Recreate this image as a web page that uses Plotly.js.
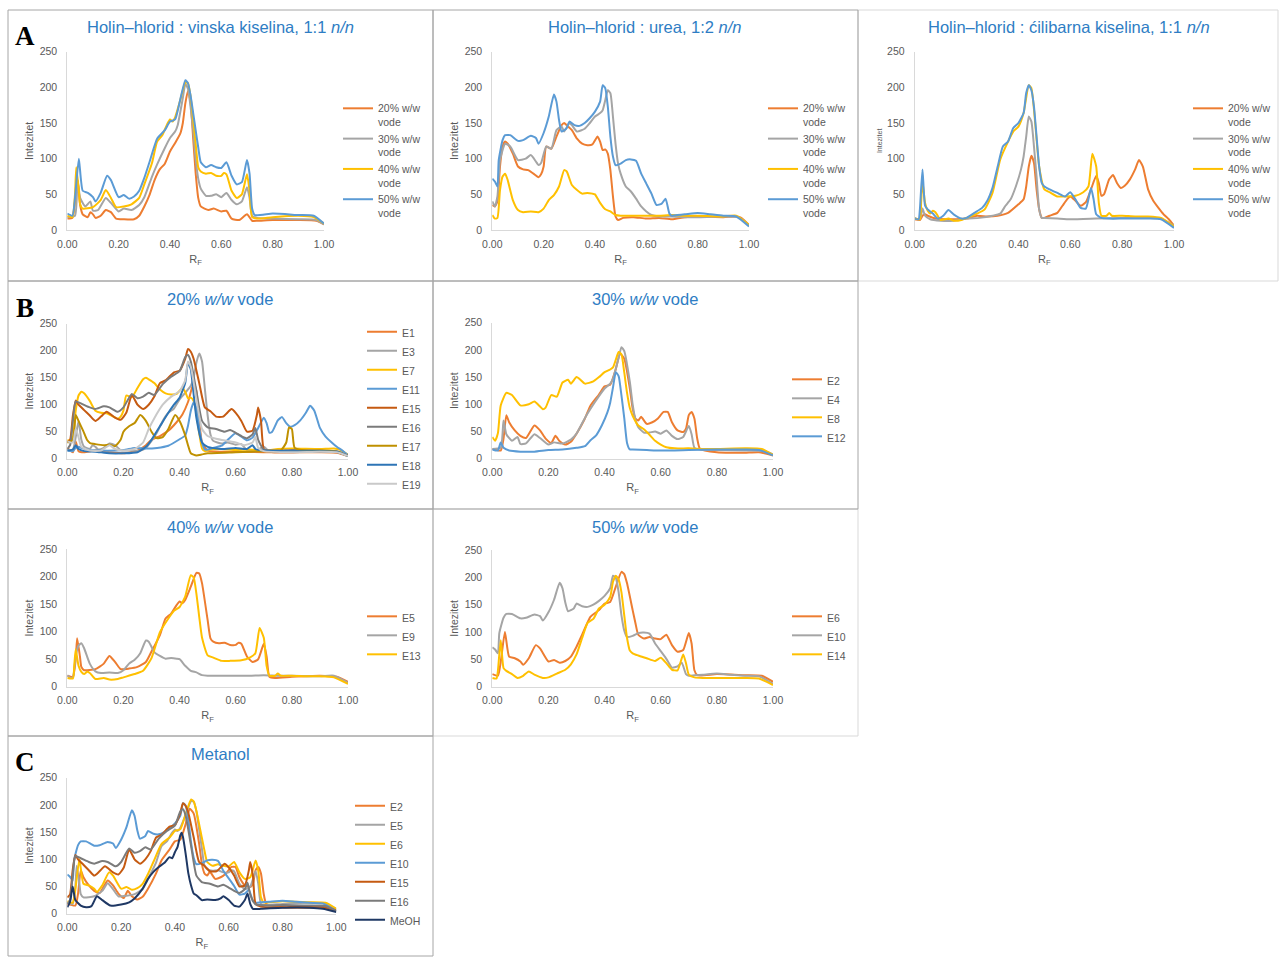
<!DOCTYPE html>
<html><head><meta charset="utf-8">
<script src="https://cdn.plot.ly/plotly-3.0.1.min.js"></script>
<style>html,body{margin:0;padding:0;background:#fff}#chart{width:1279px;height:957px}</style>
</head><body><div id="chart"></div>
<script>
// ---- DATA: [RF, intensity] pairs ----
const E1 = [[0,20],[0.02,12],[0.03,32],[0.04,14],[0.06,12],[0.10,15],[0.15,12],[0.20,10],[0.25,15],[0.28,25],[0.30,35],[0.33,42],[0.36,52],[0.39,68],[0.41,82],[0.43,105],[0.45,140],[0.46,125],[0.47,70],[0.48,30],[0.50,15],[0.60,13],[0.70,12],[0.80,12],[0.90,12],[0.96,11],[1.00,5]];
const E2 = [[0,18],[0.03,15],[0.04,37],[0.05,80],[0.06,67],[0.08,52],[0.10,42],[0.12,38],[0.15,61],[0.17,52],[0.19,37],[0.21,29],[0.225,42],[0.24,32],[0.26,26],[0.28,31],[0.30,46],[0.33,74],[0.35,98],[0.38,118],[0.40,133],[0.42,136],[0.44,165],[0.455,193],[0.47,184],[0.49,129],[0.50,92],[0.51,74],[0.52,70],[0.53,77],[0.55,64],[0.57,67],[0.59,74],[0.61,86],[0.625,86],[0.64,67],[0.66,52],[0.68,49],[0.69,55],[0.70,80],[0.71,86],[0.72,74],[0.73,37],[0.74,18],[0.80,12],[0.85,11],[0.90,11],[0.95,12],[1.00,6]];
const E3 = [[0,16],[0.02,17],[0.03,40],[0.04,70],[0.05,35],[0.06,22],[0.08,18],[0.09,25],[0.10,22],[0.11,17],[0.13,20],[0.15,28],[0.17,25],[0.19,16],[0.22,15],[0.26,15],[0.28,20],[0.30,33],[0.32,49],[0.34,70],[0.36,85],[0.38,93],[0.40,110],[0.42,122],[0.44,135],[0.45,150],[0.46,178],[0.47,195],[0.48,180],[0.49,130],[0.50,80],[0.51,45],[0.52,33],[0.55,28],[0.57,30],[0.60,26],[0.62,27],[0.64,16],[0.67,14],[0.70,22],[0.72,13],[0.74,13],[0.80,14],[0.90,14],[0.97,13],[1.00,8]];
const E4 = [[0,18],[0.03,20],[0.04,70],[0.05,45],[0.07,33],[0.09,40],[0.10,27],[0.12,28],[0.15,45],[0.17,38],[0.20,26],[0.22,30],[0.25,28],[0.28,35],[0.30,46],[0.33,75],[0.35,92],[0.38,115],[0.40,129],[0.42,138],[0.43,147],[0.45,185],[0.46,205],[0.47,198],[0.49,141],[0.50,100],[0.51,72],[0.52,58],[0.54,48],[0.56,48],[0.58,50],[0.60,46],[0.62,52],[0.64,42],[0.66,36],[0.68,40],[0.70,60],[0.71,45],[0.72,20],[0.74,17],[0.80,16],[0.90,15],[0.97,14],[1.00,8]];
const E5 = [[0,20],[0.02,18],[0.03,50],[0.035,88],[0.045,55],[0.05,36],[0.06,30],[0.10,32],[0.13,42],[0.15,56],[0.17,45],[0.19,32],[0.22,33],[0.25,36],[0.28,45],[0.30,64],[0.33,94],[0.35,124],[0.37,133],[0.39,149],[0.40,155],[0.41,152],[0.42,158],[0.44,182],[0.46,207],[0.47,206],[0.48,188],[0.50,121],[0.51,88],[0.52,82],[0.54,79],[0.56,80],[0.58,76],[0.60,76],[0.61,80],[0.62,78],[0.64,55],[0.66,45],[0.68,50],[0.70,78],[0.71,55],[0.72,18],[0.74,16],[0.80,18],[0.90,20],[0.96,18],[1.00,9]];
const E6 = [[0,23],[0.02,20],[0.03,45],[0.045,100],[0.06,55],[0.08,52],[0.10,46],[0.11,40],[0.13,52],[0.155,76],[0.17,70],[0.20,46],[0.22,49],[0.24,44],[0.26,47],[0.28,55],[0.30,73],[0.32,95],[0.35,128],[0.38,140],[0.40,152],[0.42,155],[0.44,183],[0.46,210],[0.47,206],[0.48,189],[0.50,140],[0.51,116],[0.52,95],[0.54,88],[0.56,91],[0.58,88],[0.60,87],[0.62,95],[0.64,76],[0.66,64],[0.68,67],[0.70,98],[0.71,79],[0.72,30],[0.73,21],[0.80,23],[0.90,21],[0.96,20],[1.00,9]];
const E7 = [[0,35],[0.01,33],[0.02,40],[0.03,89],[0.04,117],[0.05,124],[0.06,121],[0.08,107],[0.10,89],[0.12,85],[0.14,84],[0.16,79],[0.18,74],[0.19,78],[0.20,89],[0.21,117],[0.23,114],[0.25,131],[0.27,147],[0.28,150],[0.29,147],[0.31,140],[0.33,128],[0.35,121],[0.37,119],[0.39,120],[0.41,131],[0.42,124],[0.43,112],[0.44,113],[0.45,107],[0.46,84],[0.47,47],[0.48,19],[0.49,14],[0.51,17],[0.55,18],[0.60,16],[0.65,17],[0.70,15],[0.75,18],[0.80,19],[0.90,18],[0.95,19],[0.97,17],[1.00,7]];
const E8 = [[0,40],[0.01,33],[0.02,47],[0.03,98],[0.05,121],[0.07,117],[0.10,98],[0.13,100],[0.15,105],[0.17,96],[0.18,91],[0.19,94],[0.21,117],[0.23,114],[0.25,140],[0.27,145],[0.28,138],[0.30,150],[0.31,147],[0.33,138],[0.36,142],[0.38,150],[0.40,159],[0.42,164],[0.43,168],[0.44,182],[0.45,196],[0.46,192],[0.47,159],[0.48,121],[0.49,93],[0.50,79],[0.52,61],[0.54,54],[0.56,44],[0.58,33],[0.60,26],[0.62,21],[0.65,19],[0.70,19],[0.75,18],[0.80,18],[0.90,19],[0.96,18],[1.00,7]];
const E9 = [[0,21],[0.01,16],[0.02,17],[0.03,56],[0.04,75],[0.05,79],[0.06,70],[0.08,42],[0.10,28],[0.12,25],[0.15,26],[0.18,25],[0.20,30],[0.22,42],[0.24,49],[0.26,61],[0.28,84],[0.29,82],[0.31,63],[0.33,56],[0.35,51],[0.37,52],[0.39,51],[0.40,50],[0.42,38],[0.44,29],[0.46,26],[0.48,21],[0.50,20],[0.55,20],[0.60,20],[0.65,20],[0.70,21],[0.75,20],[0.80,20],[0.90,19],[0.95,20],[1.00,7]];
const E10 = [[0,72],[0.01,68],[0.02,61],[0.025,98],[0.04,126],[0.05,133],[0.07,133],[0.10,125],[0.12,126],[0.15,132],[0.17,129],[0.18,121],[0.20,136],[0.22,159],[0.24,190],[0.25,180],[0.26,154],[0.27,138],[0.29,143],[0.30,152],[0.32,147],[0.34,146],[0.36,150],[0.38,157],[0.40,166],[0.42,180],[0.43,203],[0.44,199],[0.45,173],[0.46,131],[0.47,103],[0.48,91],[0.50,93],[0.52,98],[0.54,99],[0.56,97],[0.58,79],[0.60,65],[0.62,51],[0.64,35],[0.66,37],[0.675,44],[0.69,23],[0.70,20],[0.72,21],[0.75,22],[0.80,24],[0.85,22],[0.90,20],[0.95,19],[1.00,5]];
const E11 = [[0,15],[0.02,14],[0.03,20],[0.04,22],[0.05,20],[0.08,16],[0.12,15],[0.20,16],[0.24,20],[0.28,19],[0.32,20],[0.36,24],[0.40,36],[0.42,43],[0.43,61],[0.44,89],[0.45,104],[0.46,94],[0.47,57],[0.48,29],[0.49,17],[0.50,17],[0.52,20],[0.55,24],[0.57,34],[0.59,44],[0.60,47],[0.62,41],[0.64,34],[0.66,39],[0.68,57],[0.70,76],[0.71,66],[0.72,48],[0.73,50],[0.75,71],[0.765,77],[0.78,66],[0.795,59],[0.81,62],[0.83,71],[0.85,85],[0.865,98],[0.88,89],[0.90,57],[0.92,41],[0.94,31],[0.96,22],[0.98,15],[1.00,6]];
const E12 = [[0,17],[0.02,15],[0.03,30],[0.04,20],[0.06,15],[0.10,13],[0.15,13],[0.20,16],[0.25,17],[0.30,20],[0.33,23],[0.35,34],[0.37,43],[0.39,61],[0.41,85],[0.42,103],[0.43,131],[0.44,159],[0.45,152],[0.46,117],[0.47,75],[0.48,29],[0.49,17],[0.50,17],[0.55,16],[0.60,15],[0.70,16],[0.80,17],[0.90,17],[0.95,16],[1.00,6]];
const E13 = [[0,16],[0.02,15],[0.025,40],[0.03,68],[0.04,38],[0.05,27],[0.06,23],[0.07,27],[0.08,25],[0.10,14],[0.13,16],[0.15,13],[0.18,14],[0.20,17],[0.24,23],[0.27,29],[0.30,52],[0.33,99],[0.36,124],[0.38,138],[0.40,145],[0.42,164],[0.44,203],[0.45,199],[0.46,169],[0.47,127],[0.48,89],[0.50,57],[0.52,53],[0.55,47],[0.58,47],[0.62,48],[0.65,53],[0.67,61],[0.685,107],[0.70,89],[0.71,38],[0.72,20],[0.74,20],[0.75,24],[0.76,20],[0.80,20],[0.85,19],[0.90,19],[0.95,17],[1.00,5]];
const E14 = [[0,16],[0.015,15],[0.02,29],[0.03,85],[0.04,34],[0.05,29],[0.07,23],[0.09,16],[0.11,20],[0.13,28],[0.15,22],[0.18,16],[0.20,17],[0.23,24],[0.26,31],[0.28,41],[0.30,59],[0.32,89],[0.34,117],[0.36,124],[0.38,143],[0.40,150],[0.42,164],[0.43,192],[0.44,203],[0.45,196],[0.46,173],[0.47,131],[0.48,89],[0.49,66],[0.50,61],[0.52,57],[0.55,52],[0.58,47],[0.60,53],[0.62,43],[0.64,31],[0.66,30],[0.68,59],[0.69,43],[0.70,22],[0.72,17],[0.75,16],[0.80,16],[0.90,16],[0.95,15],[1.00,3]];
const E15 = [[0,30],[0.01,35],[0.02,80],[0.03,108],[0.04,100],[0.06,90],[0.08,80],[0.10,70],[0.12,78],[0.14,87],[0.17,76],[0.19,72],[0.21,85],[0.23,118],[0.25,100],[0.27,92],[0.29,100],[0.31,115],[0.33,140],[0.35,145],[0.38,160],[0.40,163],[0.42,185],[0.43,203],[0.44,198],[0.45,185],[0.47,140],[0.49,95],[0.51,88],[0.53,78],[0.555,78],[0.585,92],[0.60,85],[0.62,70],[0.64,50],[0.66,52],[0.675,80],[0.68,95],[0.69,70],[0.70,18],[0.72,13],[0.80,12],[0.90,14],[0.96,12],[1.00,6]];
const E16 = [[0,18],[0.01,25],[0.02,70],[0.03,106],[0.05,102],[0.08,95],[0.10,92],[0.13,97],[0.15,95],[0.18,87],[0.20,95],[0.23,120],[0.25,112],[0.27,115],[0.29,122],[0.31,118],[0.34,138],[0.37,152],[0.40,162],[0.42,188],[0.43,192],[0.44,180],[0.46,125],[0.48,70],[0.50,58],[0.53,55],[0.56,50],[0.58,53],[0.60,48],[0.62,42],[0.64,38],[0.66,45],[0.67,57],[0.68,35],[0.70,17],[0.75,15],[0.80,16],[0.90,15],[0.96,14],[1.00,5]];
const E17 = [[0,30],[0.02,35],[0.03,81],[0.04,70],[0.057,51],[0.07,35],[0.081,29],[0.10,27],[0.13,25],[0.152,26],[0.17,23],[0.19,35],[0.20,50],[0.22,60],[0.24,66],[0.26,81],[0.28,70],[0.30,50],[0.318,38],[0.34,40],[0.36,55],[0.384,81],[0.40,70],[0.419,45],[0.43,25],[0.44,10],[0.46,6],[0.48,8],[0.50,10],[0.60,12],[0.70,14],[0.76,15],[0.78,30],[0.79,58],[0.80,55],[0.81,20],[0.85,15],[0.90,15],[0.96,13],[1.00,5]];
const E18 = [[0,15],[0.02,17],[0.03,25],[0.04,18],[0.06,14],[0.10,13],[0.15,10],[0.20,10],[0.25,12],[0.28,22],[0.30,35],[0.33,60],[0.36,85],[0.38,100],[0.40,113],[0.42,140],[0.43,178],[0.44,165],[0.45,120],[0.46,75],[0.48,30],[0.50,22],[0.55,18],[0.60,20],[0.64,18],[0.66,25],[0.67,18],[0.70,15],[0.80,14],[0.90,14],[0.96,13],[1.00,5]];
const E19 = [[0,32],[0.02,30],[0.03,55],[0.04,40],[0.05,22],[0.08,15],[0.12,15],[0.15,25],[0.17,18],[0.20,15],[0.24,18],[0.27,30],[0.29,55],[0.31,75],[0.34,100],[0.37,115],[0.40,125],[0.42,145],[0.43,180],[0.44,170],[0.46,110],[0.48,55],[0.50,42],[0.53,37],[0.57,33],[0.60,30],[0.63,25],[0.66,30],[0.67,40],[0.68,20],[0.70,14],[0.80,12],[0.90,13],[0.96,12],[1.00,5]];
const MeOH = [[0,12],[0.01,21],[0.02,50],[0.03,25],[0.05,15],[0.07,12],[0.09,14],[0.11,32],[0.13,25],[0.16,15],[0.20,17],[0.23,21],[0.25,28],[0.28,46],[0.30,64],[0.32,77],[0.34,86],[0.36,93],[0.38,104],[0.39,102],[0.40,113],[0.41,123],[0.42,144],[0.425,149],[0.43,141],[0.44,110],[0.45,74],[0.46,52],[0.47,37],[0.48,34],[0.50,25],[0.52,26],[0.55,25],[0.57,28],[0.58,32],[0.60,25],[0.62,15],[0.64,13],[0.66,25],[0.67,37],[0.68,18],[0.69,9],[0.72,9],[0.80,11],[0.90,11],[0.95,9],[1.00,3]];

const waterLabels = ['20% w/w<br>vode','30% w/w<br>vode','40% w/w<br>vode','50% w/w<br>vode'];
const panelTitles = [
  'Holin–hlorid : vinska kiselina, 1:1 <i>n/n</i>',
  'Holin–hlorid : urea, 1:2 <i>n/n</i>',
  'Holin–hlorid : ćilibarna kiselina, 1:1 <i>n/n</i>',
  '20% <i>w/w</i> vode', '30% <i>w/w</i> vode', '40% <i>w/w</i> vode', '50% <i>w/w</i> vode',
  'Metanol'
];
const yTicks = [0,50,100,150,200,250];
const xTicks = [0,0.2,0.4,0.6,0.8,1.0];
const xTickText = ['0.00','0.20','0.40','0.60','0.80','1.00'];

// ---- styling ----
const C = {or:'#ED7D31', gy:'#A5A5A5', ye:'#FFC000', bl:'#5B9BD5', dor:'#C55A11', dgy:'#7B7B7B', dye:'#BF9000', dbl:'#2E75B6', lgy:'#C9C9C9', nv:'#1F3864'};
const S = {E1,E2,E3,E4,E5,E6,E7,E8,E9,E10,E11,E12,E13,E14,E15,E16,E17,E18,E19,MeOH};
const FONT = '"Liberation Sans", Arial, sans-serif';
const W = 1279, H = 957;
const px = v => v / W, py = v => 1 - v / H;

const panels = [
  {x0:67.3,x1:324,yb:230,yt:51.7,ti:0,tx:220,ty:27,lx:378,ly:95,yts:11,
   s:[['E3',waterLabels[0],C.or],['E4',waterLabels[1],C.gy],['E5',waterLabels[2],C.ye],['E6',waterLabels[3],C.bl]]},
  {x0:492.3,x1:749,yb:230,yt:51.7,ti:1,tx:645,ty:27,lx:803,ly:95,yts:11,
   s:[['E7',waterLabels[0],C.or],['E8',waterLabels[1],C.gy],['E9',waterLabels[2],C.ye],['E10',waterLabels[3],C.bl]]},
  {x0:914.7,x1:1174,yb:230,yt:51.7,ti:2,tx:1069,ty:27,lx:1228,ly:95,yts:7,
   s:[['E11',waterLabels[0],C.or],['E12',waterLabels[1],C.gy],['E13',waterLabels[2],C.ye],['E14',waterLabels[3],C.bl]]},
  {x0:67.3,x1:348,yb:458.7,yt:323.7,ti:3,tx:220,ty:299,lx:402,ly:318.5,yts:10.5,
   s:[['E1','E1',C.or],['E3','E3',C.gy],['E7','E7',C.ye],['E11','E11',C.bl],['E15','E15',C.dor],['E16','E16',C.dgy],['E17','E17',C.dye],['E18','E18',C.dbl],['E19','E19',C.lgy]]},
  {x0:492.3,x1:773,yb:458.7,yt:322.7,ti:4,tx:645,ty:299,lx:827,ly:366,yts:10.5,
   s:[['E2','E2',C.or],['E4','E4',C.gy],['E8','E8',C.ye],['E12','E12',C.bl]]},
  {x0:67.3,x1:348,yb:686.7,yt:549.3,ti:5,tx:220,ty:527,lx:402,ly:603,yts:10.5,
   s:[['E5','E5',C.or],['E9','E9',C.gy],['E13','E13',C.ye]]},
  {x0:492.3,x1:773,yb:686.7,yt:550,ti:6,tx:645,ty:527,lx:827,ly:603,yts:10.5,
   s:[['E6','E6',C.or],['E10','E10',C.gy],['E14','E14',C.ye]]},
  {x0:67.3,x1:336.3,yb:913.7,yt:777.7,ti:7,tx:220,ty:754,lx:390,ly:792.5,yts:10.5,
   s:[['E2','E2',C.or],['E5','E5',C.gy],['E6','E6',C.ye],['E10','E10',C.bl],['E15','E15',C.dor],['E16','E16',C.dgy],['MeOH','MeOH',C.nv]]}
];

const traces = [];
const layout = {
  width: W, height: H, margin:{l:0,r:0,t:0,b:0},
  paper_bgcolor:'#fff', plot_bgcolor:'rgba(0,0,0,0)',
  font:{family:FONT, color:'#595959'},
  showlegend:true, annotations:[], shapes:[]
};

panels.forEach((p, i) => {
  const k = i + 1;
  const xa = 'x' + (k === 1 ? '' : k), ya = 'y' + (k === 1 ? '' : k);
  const legKey = k === 1 ? 'legend' : 'legend' + k;
  p.s.forEach(([name, label, color]) => {
    const d = S[name];
    traces.push({
      type:'scatter', mode:'lines', x:d.map(v=>v[0]), y:d.map(v=>v[1]),
      name:label, xaxis:xa, yaxis:ya, legend:legKey,
      line:{color:color, width:2, shape:'spline', smoothing:0.5},
      hoverinfo:'x+y+name'
    });
  });
  layout['xaxis' + (k === 1 ? '' : k)] = {
    domain:[px(p.x0), px(p.x1)], anchor:ya, range:[0,1],
    tickvals:xTicks, ticktext:xTickText, ticks:'', ticklabelstandoff:4,
    showline:true, linecolor:'#D9D9D9', linewidth:1, showgrid:false, zeroline:false,
    tickfont:{size:10.5, color:'#595959', family:FONT},
    title:{text:'R<sub>F</sub>', font:{size:11, color:'#595959', family:FONT}, standoff:6},
    fixedrange:true
  };
  layout['yaxis' + (k === 1 ? '' : k)] = {
    domain:[py(p.yb), py(p.yt)], anchor:xa, range:[0,250],
    tickvals:yTicks, ticks:'', ticklabelstandoff:7,
    showline:true, linecolor:'#D9D9D9', linewidth:1, showgrid:false, zeroline:false,
    tickfont:{size:10.5, color:'#595959', family:FONT},
    title:{text:'Intezitet', font:{size:p.yts, color:'#595959', family:FONT}, standoff:3},
    fixedrange:true
  };
  layout[legKey] = {
    x:px(p.lx - 40), y:py(p.ly), xanchor:'left', yanchor:'top',
    bgcolor:'rgba(0,0,0,0)', borderwidth:0, tracegroupgap:0, valign:'top',
    font:{size:10.5, color:'#595959', family:FONT}
  };
  layout.annotations.push({
    xref:'paper', yref:'paper', x:px(p.tx), y:py(p.ty), xanchor:'center', yanchor:'middle',
    text:panelTitles[p.ti], showarrow:false, font:{size:16.5, color:'#2E7DC4', family:FONT}
  });
});

// panel letters
[['A',25,36],['B',25,308],['C',25,762]].forEach(([t,x,y]) => {
  layout.annotations.push({xref:'paper', yref:'paper', x:px(x), y:py(y), xanchor:'center', yanchor:'middle',
    text:'<b>'+t+'</b>', showarrow:false, font:{size:27, color:'#000', family:'"Liberation Serif", "Times New Roman", serif'}});
});

// panel frames
const frames = [
  [858,10,1278,281,'#D9D9D9'],[433,509,858,736,'#D9D9D9'],
  [8,10,433,281,'#A6A6A6'],[433,10,858,281,'#A6A6A6'],[8,281,433,509,'#A6A6A6'],
  [433,281,858,509,'#A6A6A6'],[8,509,433,736,'#A6A6A6'],[8,736,433,956,'#A6A6A6']
];
frames.forEach(([l,t,r,b,c]) => layout.shapes.push({type:'rect', xref:'paper', yref:'paper',
  x0:px(l), x1:px(r), y0:py(b), y1:py(t), line:{color:c, width:1}, fillcolor:'rgba(0,0,0,0)', layer:'below'}));

Plotly.newPlot('chart', traces, layout, {displayModeBar:false, staticPlot:false});
</script>
</body></html>
